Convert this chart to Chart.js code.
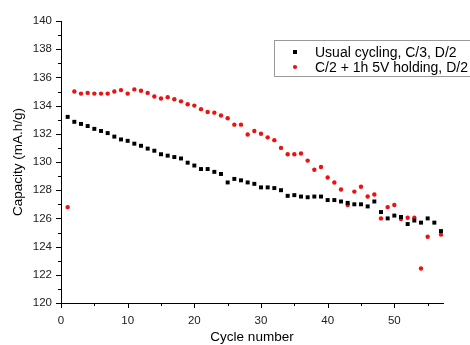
<!DOCTYPE html>
<html>
<head>
<meta charset="utf-8">
<script src="https://cdn.jsdelivr.net/npm/chart.js@4/dist/chart.umd.min.js"></script>
<style>
  html, body { margin: 0; padding: 0; background: #fff; }
  #wrap { width: 470px; height: 345px; }
</style>
</head>
<body>
<div id="wrap"><canvas id="chart" width="470" height="345"></canvas></div>
<script>
// cycle numbers 1..57
const cycles = [1,2,3,4,5,6,7,8,9,10,11,12,13,14,15,16,17,18,19,20,21,22,23,24,25,26,27,28,29,30,
  31,32,33,34,35,36,37,38,39,40,41,42,43,44,45,46,47,48,49,50,51,52,53,54,55,56,57];

// Usual cycling, C/3, D/2
const usualCapacity = [133.2,132.85,132.7,132.55,132.35,132.2,132.05,131.8,131.6,131.5,
  131.3,131.15,130.95,130.8,130.55,130.45,130.35,130.25,129.95,129.75,
  129.5,129.5,129.3,129.15,128.55,128.8,128.7,128.55,128.45,128.2,
  128.2,128.15,128.0,127.6,127.65,127.55,127.5,127.55,127.55,127.3,
  127.3,127.2,127.1,127.0,127.0,126.85,127.2,126.45,126.0,126.2,
  126.1,125.6,125.85,125.7,126.0,125.7,125.1];

// C/2 + 1h 5V holding, D/2 (no point at cycle 56)
const holdingCapacity = [126.8,135.0,134.85,134.9,134.85,134.85,134.85,135.0,135.1,134.85,
  135.15,135.05,134.9,134.65,134.5,134.6,134.45,134.3,134.1,134.0,
  133.75,133.55,133.5,133.3,133.1,132.65,132.65,131.95,132.2,132.0,
  131.75,131.55,131.0,130.55,130.55,130.6,130.1,129.45,129.65,128.9,
  128.55,128.05,126.95,127.9,128.25,127.55,127.7,126.0,126.8,126.95,
  125.95,126.05,126.05,122.45,124.7,null,124.85];

const seriesLabels = ['Usual cycling, C/3, D/2', 'C/2 + 1h 5V holding, D/2'];
const xTickLabels = [0, 10, 20, 30, 40, 50];
const yTickLabels = [120, 122, 124, 126, 128, 130, 132, 134, 136, 138, 140];

const FONT = 'Liberation Sans, Arial, sans-serif';

function toPoints(ys) {
  return cycles.map((c, i) => ({ x: c, y: ys[i] })).filter(p => p.y !== null);
}

// ticks (major + minor) drawn outward with the scales' own pixel mapping
const tickPlugin = {
  id: 'ticks',
  afterDraw(chart) {
    const c = chart.ctx;
    const xs = chart.scales.x, ys = chart.scales.y;
    c.save();
    c.strokeStyle = '#000';
    c.lineWidth = 1;
    c.beginPath();
    for (let v = 0; v <= 55; v += 5) {
      const px = Math.round(xs.getPixelForValue(v)) + 0.5;
      const len = v % 10 === 0 ? 5 : 3;
      c.moveTo(px, xs.top);
      c.lineTo(px, xs.top + len);
    }
    for (let v = 120; v <= 140; v += 1) {
      const py = Math.round(ys.getPixelForValue(v)) + 0.5;
      const len = v % 2 === 0 ? 5 : 3;
      c.moveTo(ys.right, py);
      c.lineTo(ys.right - len, py);
    }
    c.stroke();
    c.restore();
  }
};

// boxed legend in the upper right
const boxLegend = {
  id: 'boxLegend',
  afterDraw(chart) {
    const c = chart.ctx;
    c.save();
    c.strokeStyle = '#999';
    c.lineWidth = 1;
    c.strokeRect(274.5, 40.5, 200, 36);
    c.font = '14px ' + FONT;
    c.textBaseline = 'middle';
    const rows = [52, 67];
    chart.data.datasets.forEach((ds, i) => {
      c.fillStyle = ds.backgroundColor;
      if (ds.pointStyle === 'rect') {
        c.fillRect(293, rows[i] - 2, 4, 4);
      } else {
        c.beginPath();
        c.arc(295, rows[i], 2.1, 0, Math.PI * 2);
        c.fill();
      }
      c.fillStyle = '#000';
      c.fillText(ds.label, 315, rows[i] + 1);
    });
    c.restore();
  }
};

new Chart(document.getElementById('chart').getContext('2d'), {
  type: 'scatter',
  data: {
    datasets: [{
      label: seriesLabels[0],
      data: toPoints(usualCapacity),
      pointStyle: 'rect',
      pointRadius: 2.8,
      backgroundColor: '#000',
      borderColor: '#000',
      borderWidth: 0
    }, {
      label: seriesLabels[1],
      data: toPoints(holdingCapacity),
      pointStyle: 'circle',
      pointRadius: 2.2,
      backgroundColor: '#ee1111',
      borderColor: '#ee1111',
      borderWidth: 0
    }]
  },
  options: {
    responsive: false,
    animation: false,
    layout: { padding: { top: 21, right: 27, left: 0, bottom: 0 } },
    plugins: {
      legend: { display: false },
      tooltip: { enabled: false }
    },
    scales: {
      x: {
        type: 'linear',
        min: 0,
        max: 57.3,
        afterBuildTicks: s => { s.ticks = xTickLabels.map(v => ({ value: v })); },
        afterFit: s => { s.height = 42; },
        grid: { display: false, drawTicks: false },
        border: { display: true, color: '#000', width: 1 },
        ticks: { color: '#222', font: { family: FONT, size: 11.5 }, padding: 11, maxRotation: 0 },
        title: { display: true, text: 'Cycle number', color: '#000', font: { family: FONT, size: 13.5 }, padding: { top: 4, bottom: 0 } }
      },
      y: {
        type: 'linear',
        min: 120,
        max: 140,
        afterBuildTicks: s => { s.ticks = yTickLabels.map(v => ({ value: v })); },
        afterFit: s => { s.width = 61; },
        grid: { display: false, drawTicks: false },
        border: { display: true, color: '#000', width: 1 },
        ticks: { color: '#222', font: { family: FONT, size: 11.5 }, padding: 9 },
        title: { display: true, text: 'Capacity (mA.h/g)', color: '#000', font: { family: FONT, size: 13.5 }, padding: { top: 10, bottom: 4 } }
      }
    }
  },
  plugins: [tickPlugin, boxLegend]
});
</script>
</body>
</html>
